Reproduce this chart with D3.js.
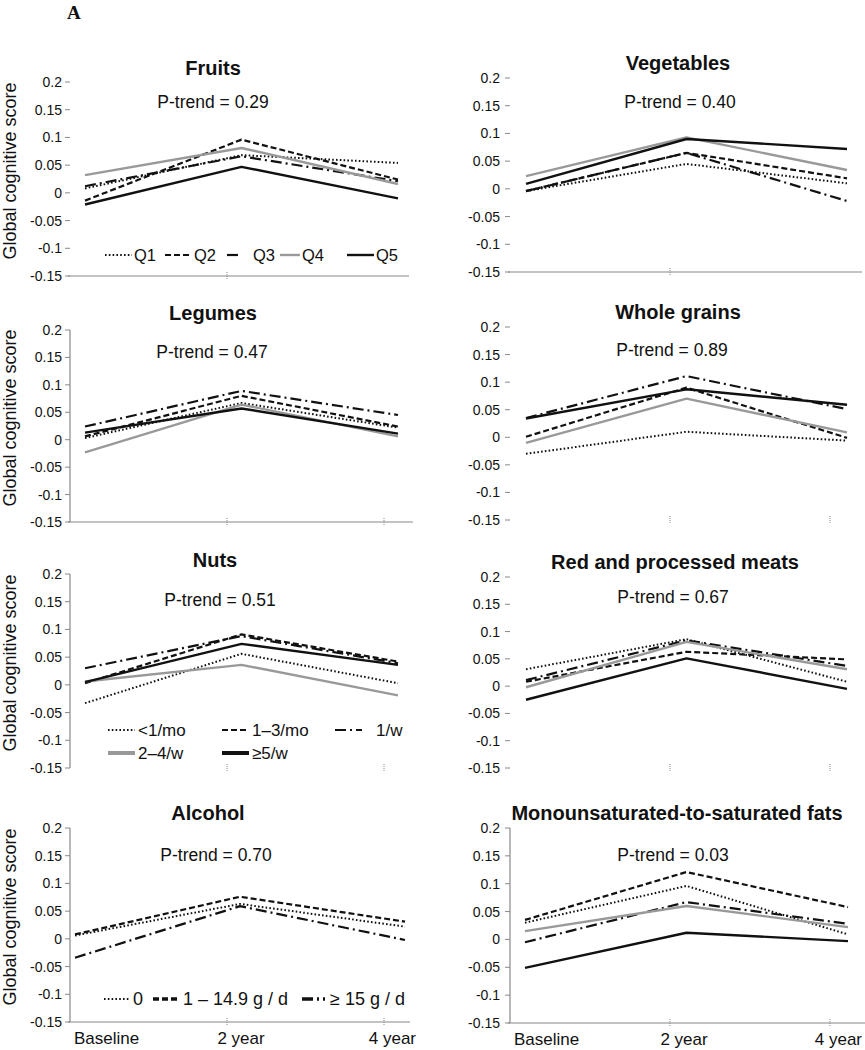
<!DOCTYPE html>
<html>
<head>
<meta charset="utf-8">
<script src="https://cdn.jsdelivr.net/npm/d3@7"></script>
<style>
  html, body { margin: 0; padding: 0; background: #fff; }
  svg { display: block; }
  text { font-family: "Liberation Sans", Arial, sans-serif; fill: #111; }
</style>
</head>
<body>
<svg id="chart" width="865" height="1050"></svg>
<script>
// ---------------- DATA ----------------
const timepoints = ["Baseline", "2 year", "4 year"];
const yTicks = [0.2, 0.15, 0.1, 0.05, 0, -0.05, -0.1, -0.15];
const yTickLabels = ["0.2", "0.15", "0.1", "0.05", "0", "-0.05", "-0.1", "-0.15"];

const panelTitles = ["Fruits", "Vegetables", "Legumes", "Whole grains", "Nuts",
  "Red and processed meats", "Alcohol", "Monounsaturated-to-saturated fats"];
const pTrends = ["0.29", "0.40", "0.47", "0.89", "0.51", "0.67", "0.70", "0.03"];

// series order in each panel: [dotted, dashed, dash-dot, grey solid, black solid]
const fruitsValues     = [[0.008, 0.068, 0.054], [-0.014, 0.096, 0.024], [0.012, 0.066, 0.021], [0.032, 0.081, 0.016], [-0.021, 0.047, -0.010]];
const vegetablesValues = [[-0.004, 0.045, 0.010], [-0.004, 0.065, 0.019], [-0.004, 0.065, -0.022], [0.023, 0.093, 0.034], [0.009, 0.090, 0.072]];
const legumesValues    = [[0.003, 0.067, 0.022], [0.006, 0.080, 0.024], [0.024, 0.089, 0.045], [-0.023, 0.064, 0.006], [0.013, 0.057, 0.011]];
const grainsValues     = [[-0.030, 0.010, -0.006], [0.001, 0.090, -0.001], [0.035, 0.111, 0.051], [-0.010, 0.070, 0.009], [0.034, 0.087, 0.059]];
const nutsValues       = [[-0.033, 0.056, 0.003], [0.003, 0.091, 0.042], [0.030, 0.088, 0.039], [0.006, 0.036, -0.019], [0.005, 0.074, 0.036]];
const meatsValues      = [[0.031, 0.086, 0.008], [0.008, 0.063, 0.049], [0.011, 0.084, 0.037], [-0.002, 0.081, 0.031], [-0.025, 0.051, -0.005]];
const alcoholValues    = [[0.006, 0.063, 0.022], [0.008, 0.076, 0.031], [-0.034, 0.059, -0.002]];
const fatsValues       = [[0.030, 0.096, 0.009], [0.035, 0.121, 0.058], [-0.005, 0.067, 0.028], [0.015, 0.060, 0.022], [-0.051, 0.012, -0.003]];

const fruitsLegend  = ["Q1", "Q2", "Q3", "Q4", "Q5"];
const nutsLegend    = ["<1/mo", "1\u20133/mo", "1/w", "2\u20134/w", "\u22655/w"];
const alcoholLegend = ["0", "1 \u2013 14.9 g / d", "\u2265 15 g / d"];

const panelValues = [fruitsValues, vegetablesValues, legumesValues, grainsValues,
  nutsValues, meatsValues, alcoholValues, fatsValues];

// ---------------- STYLES / LAYOUT ----------------
const seriesStyles = [
  { stroke: "#111", width: 2.0, dash: "1.6,2.2" },
  { stroke: "#111", width: 2.2, dash: "6,3" },
  { stroke: "#111", width: 2.2, dash: "11,4,2,4" },
  { stroke: "#999", width: 2.4, dash: null },
  { stroke: "#111", width: 2.4, dash: null }
];

const cols = [
  { tickRight: 62, axisX: 70, dataX: [85, 239, 398], tickStep: 157 },
  { tickRight: 500, axisX: 510, dataX: [526, 686, 847], tickStep: 160 }
];

const panelLayout = [
  { col: 0, yTop: 82,  yBot: 276,  tx: 213, ty: 68,  px: 213, py: 102, v: false, h: true,  hEnd: 409, ticks: [1] },
  { col: 1, yTop: 78,  yBot: 272,  tx: 678, ty: 63,  px: 680, py: 102, v: false, h: true,  hEnd: 862, ticks: [1] },
  { col: 0, yTop: 330, yBot: 522,  tx: 213, ty: 313, px: 212, py: 352, v: true,  h: true,  hEnd: 413, ticks: [1, 2] },
  { col: 1, yTop: 327, yBot: 520,  tx: 678, ty: 312, px: 672, py: 350, v: false, h: false, ticks: [1, 2] },
  { col: 0, yTop: 574, yBot: 768,  tx: 215, ty: 560, px: 220, py: 600, v: true,  h: false, ticks: [1, 2] },
  { col: 1, yTop: 577, yBot: 768,  tx: 675, ty: 562, px: 673, py: 597, v: false, h: false, ticks: [1, 2] },
  { col: 0, yTop: 828, yBot: 1022, tx: 208, ty: 813, px: 216, py: 855, v: true,  h: true,  hEnd: 410, ticks: [1, 2], dataX: [75, 233, 405], xLabels: true },
  { col: 1, yTop: 828, yBot: 1023, tx: 677, ty: 813, px: 673, py: 855, v: true,  h: true,  hEnd: 865, ticks: [1, 2], dataX: [525, 680, 848], xLabels: true }
];

const svg = d3.select("#chart");

svg.append("text")
  .attr("x", 67).attr("y", 19)
  .style("font-family", "'Liberation Serif', 'Times New Roman', serif")
  .style("font-weight", "bold").style("font-size", "19px")
  .text("A");

panelLayout.forEach((L, i) => {
  const col = cols[L.col];
  const g = svg.append("g");
  const y = d3.scaleLinear().domain([-0.15, 0.2]).range([L.yBot, L.yTop]);
  const x = d3.scalePoint().domain(timepoints).range([(L.dataX || col.dataX)[0], (L.dataX || col.dataX)[2]]);
  const xt = d3.scaleLinear().domain([0, 2]).range([col.axisX, col.axisX + 2 * col.tickStep]);

  // y axis ticks
  yTicks.forEach((t, k) => {
    g.append("text")
      .attr("x", col.tickRight).attr("y", y(t))
      .attr("text-anchor", "end").attr("dy", "0.36em")
      .style("font-size", "14px")
      .text(yTickLabels[k]);
    g.append("line")
      .attr("x1", col.axisX - 5).attr("x2", col.axisX)
      .attr("y1", y(t)).attr("y2", y(t))
      .attr("stroke", "#888").attr("stroke-width", 1);
  });
  if (L.v) {
    g.append("line").attr("x1", col.axisX).attr("x2", col.axisX)
      .attr("y1", L.yTop).attr("y2", L.yBot)
      .attr("stroke", "#888").attr("stroke-width", 1.2);
  }
  if (L.h) {
    g.append("line").attr("x1", col.axisX - 2).attr("x2", L.hEnd)
      .attr("y1", L.yBot).attr("y2", L.yBot)
      .attr("stroke", "#888").attr("stroke-width", 1.2);
  }
  L.ticks.forEach(k => {
    g.append("line").attr("x1", xt(k)).attr("x2", xt(k))
      .attr("y1", L.yBot - 4).attr("y2", L.yBot + 3)
      .attr("stroke", "#888").attr("stroke-width", 1).attr("stroke-dasharray", "1,1");
  });

  // y axis title (left column)
  if (L.col === 0) {
    g.append("text")
      .attr("transform", `translate(10,${(L.yTop + L.yBot) / 2 - 8}) rotate(-90)`)
      .attr("text-anchor", "middle").attr("dy", "0.36em")
      .style("font-size", "18px")
      .text("Global cognitive score");
  }

  // title and p-trend
  g.append("text")
    .attr("x", L.tx).attr("y", L.ty).attr("dy", "0.36em")
    .attr("text-anchor", "middle")
    .style("font-size", "20px").style("font-weight", "bold")
    .text(panelTitles[i]);
  g.append("text")
    .attr("x", L.px).attr("y", L.py).attr("dy", "0.36em")
    .attr("text-anchor", "middle")
    .style("font-size", "17.5px")
    .text("P-trend = " + pTrends[i]);

  // x labels
  if (L.xLabels) {
    const lx = [col.axisX + 4, xt(1) + 14, xt(2) + 32];
    const anchors = ["start", "middle", "end"];
    timepoints.forEach((t, k) => {
      g.append("text").attr("x", lx[k]).attr("y", L.yBot + 16).attr("dy", "0.36em")
        .attr("text-anchor", anchors[k]).style("font-size", "17px").text(t);
    });
  }

  // series lines
  const line = d3.line().x((d, k) => x(timepoints[k])).y(d => y(d));
  panelValues[i].forEach((vals, s) => {
    const st = seriesStyles[s];
    g.append("path").datum(vals)
      .attr("d", line)
      .attr("fill", "none")
      .attr("stroke", st.stroke)
      .attr("stroke-width", st.width)
      .attr("stroke-dasharray", st.dash)
      .attr("stroke-linejoin", "round");
  });
});

// ---------------- LEGENDS ----------------
function legendItem(x, yy, styleIdx, label, thick, fs, lineLen, gap) {
  const st = seriesStyles[styleIdx];
  svg.append("line").attr("x1", x).attr("x2", x + lineLen).attr("y1", yy).attr("y2", yy)
    .attr("stroke", st.stroke).attr("stroke-width", thick || st.width)
    .attr("stroke-dasharray", st.dash);
  svg.append("text").attr("x", x + lineLen + (gap == null ? 3 : gap)).attr("y", yy).attr("dy", "0.36em")
    .style("font-size", fs + "px").text(label);
}
// Fruits
const fruitsLegX = [105, 165, 227, 280, 347];
fruitsLegend.forEach((lab, k) => legendItem(fruitsLegX[k], 255, k, lab, null, 16.5, k === 2 ? 15 : (k === 3 ? 20 : 27), k === 2 ? 11 : 2));
// Nuts
const nutsLegPos = [[108, 730], [222, 730], [335, 730], [108, 753], [222, 753]];
nutsLegend.forEach((lab, k) => legendItem(nutsLegPos[k][0], nutsLegPos[k][1], k, lab, k >= 3 ? 4 : null, 17, 27, k === 2 ? 14 : 3));
// Alcohol
const alcLegX = [104, 153, 302];
alcoholLegend.forEach((lab, k) => legendItem(alcLegX[k], 999, k, lab, k >= 1 ? 3.5 : 2.2, 18, k === 2 ? 23 : 25, k === 0 ? 4 : 5));
</script>
</body>
</html>
